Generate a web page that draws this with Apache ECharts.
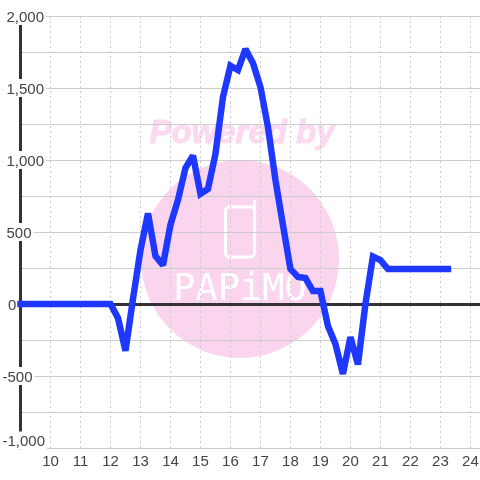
<!DOCTYPE html>
<html>
<head>
<meta charset="utf-8">
<style>html,body{margin:0;padding:0;background:#fff}#c{width:480px;height:480px}</style>
<script src="https://cdn.jsdelivr.net/npm/echarts@6/dist/echarts.min.js"></script>
</head>
<body>
<div id="c"></div>
<script>
var hours = [9,9.25,9.5,9.75,10,10.25,10.5,10.75,11,11.25,11.5,11.75,12,12.25,12.5,12.75,13,13.25,13.5,13.75,14,14.25,14.5,14.75,15,15.25,15.5,15.75,16,16.25,16.5,16.75,17,17.25,17.5,17.75,18,18.25,18.5,18.75,19,19.25,19.5,19.75,20,20.25,20.5,20.75,21,21.25,21.5,21.75,22,22.25,22.5,22.75,23,23.25];
var values = [0,0,0,0,0,0,0,0,0,0,0,0,0,-97,-325,35,375,630,333,270,550,722,944,1030,765,799,1042,1437,1655,1625,1770,1674,1507,1229,861,549,243,188,180,90,90,-153,-278,-485,-230,-420,0,330,305,243,243,243,243,243,243,243,243,243];
var yTickLabels = {'2000':'2,000','1500':'1,500','1000':'1,000','500':'500','0':'0','-500':'-500','-1000':'-1,000'};
var brand = 'PAPiMO';
var credit = 'Powered by';

var chart = echarts.init(document.getElementById('c'), null, {renderer:'canvas'});
var tickFont = {fontFamily:'"Liberation Sans",Arial,sans-serif', fontSize:15, color:'#444'};
function rs(left){return {padding:[3,2,0,left],backgroundColor:'#fff',lineHeight:15,height:15,fontFamily:tickFont.fontFamily,fontSize:15,color:'#444'};}
chart.setOption({
  animation:false,
  backgroundColor:'#fff',
  grid:{left:20.5,right:0,top:16,bottom:32,containLabel:false,outerBoundsMode:'none'},
  graphic:[
    {type:'circle',z:-10,silent:true,shape:{cx:240,cy:259,r:99},style:{fill:'#fbd5ee'}},
    {type:'text',z:-10,silent:true,x:242,y:134,style:{text:credit,fill:'#fcd9ef',stroke:'#fcd9ef',lineWidth:1,font:'italic bold 33px "Liberation Sans",sans-serif',textAlign:'center',textVerticalAlign:'middle'}},
    {type:'rect',z:-9,silent:true,shape:{x:225.5,y:207,width:29,height:50,r:4},style:{fill:'none',stroke:'#fff',lineWidth:3}},
    {type:'line',z:-9,silent:true,shape:{x1:254.5,y1:210,x2:254.5,y2:201},style:{stroke:'#fff',lineWidth:3,lineCap:'round'}},
    {type:'text',z:-9,silent:true,x:240,y:290,style:{text:brand,fill:'#fff',font:'37px "DejaVu Sans Mono",monospace',textAlign:'center',textVerticalAlign:'middle'}}
  ],
  xAxis:[
    {type:'value',min:9,max:24.32,interval:1,
     axisLine:{show:false,onZero:false},axisTick:{show:false},
     axisLabel:Object.assign({margin:6,showMinLabel:false,showMaxLabel:false,formatter:function(v){return Number.isInteger(v)?String(v):'';}},tickFont),
     splitLine:{show:true,showMinLine:false,showMaxLine:false,lineStyle:{color:'#ccc',width:1,type:[2,3]}}},
    {type:'value',min:9,max:24.32,interval:1,
     axisLine:{show:true,onZero:true,lineStyle:{color:'#333',width:3}},axisTick:{show:false},axisLabel:{show:false},splitLine:{show:false}}
  ],
  yAxis:{type:'value',min:-1000,max:2000,interval:250,
    axisLine:{show:true,onZero:false,lineStyle:{color:'#333',width:3}},axisTick:{show:false},
    axisLabel:{align:'left',margin:20,verticalAlignMinLabel:'bottom',
      formatter:function(v){var s=yTickLabels[String(v)];if(!s)return '';return '{'+(v===0?'z':(v<0?'n':'p'))+'|'+s+'}';},
      rich:{p:rs(6),n:rs(2),z:rs(7.5)}},
    splitLine:{show:true,lineStyle:{color:'#ccc',width:1}}},
  series:[{type:'line',xAxisIndex:0,data:hours.map(function(h,i){return [h,values[i]];}),showSymbol:false,smooth:false,
    lineStyle:{color:'#1f38ff',width:6.5,cap:'square',join:'miter',miterLimit:2},z:5}]
});
</script>
</body>
</html>
